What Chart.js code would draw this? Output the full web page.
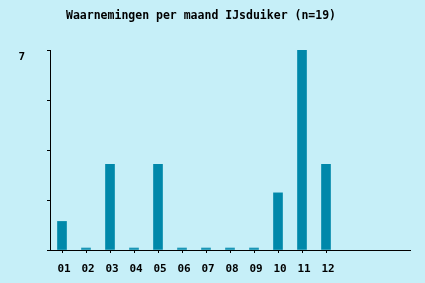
<!DOCTYPE html>
<html>
<head>
<meta charset="utf-8">
<script src="https://cdn.jsdelivr.net/npm/chart.js@4"></script>
<style>
  html, body { margin: 0; padding: 0; background: #c6eff8; }
  #wrap { width: 425px; height: 283px; }
</style>
</head>
<body>
<div id="wrap"><canvas id="chart" width="425" height="283"></canvas></div>
<script>
const titleText = "Waarnemingen per maand IJsduiker (n=19)";
const months = ["01", "02", "03", "04", "05", "06", "07", "08", "09", "10", "11", "12", "", "", ""];
const counts = [1, 0, 3, 0, 3, 0, 0, 0, 0, 2, 7, 3, null, null, null];
const yMax = 7;
const yStep = 1.75;

const monoFont = { family: "'DejaVu Sans Mono', monospace", size: 11, weight: "bold" };

// title drawn by hand so it sits where the original has it
const titlePlugin = {
    id: "plainTitle",
    afterDraw(chart) {
        const ctx = chart.ctx;
        ctx.save();
        ctx.font = "bold 11.5px 'DejaVu Sans Mono', monospace";
        ctx.fillStyle = "#000";
        ctx.textBaseline = "middle";
        ctx.textAlign = "left";
        ctx.fillText(titleText, 66, 16);
        ctx.restore();
    }
};

new Chart(document.getElementById("chart"), {
    type: "bar",
    data: {
        labels: months,
        datasets: [{
            data: counts,
            backgroundColor: counts.map(v => v === 0 ? "#1a95b5" : "#0088aa"),
            barThickness: 9,
            minBarLength: 2,
            borderWidth: 0
        }]
    },
    options: {
        responsive: false,
        animation: false,
        layout: { padding: { top: 50, left: 0, right: 15, bottom: 0 } },
        plugins: {
            legend: { display: false },
            tooltip: { enabled: false },
            title: { display: false }
        },
        scales: {
            x: {
                offset: true,
                grid: {
                    offset: false,
                    drawOnChartArea: false,
                    tickLength: 3,
                    tickColor: ctx => (ctx.index < 12 ? "#000" : "rgba(0,0,0,0)")
                },
                border: { color: "#000", width: 1 },
                ticks: { color: "#000", font: monoFont, padding: 10, labelOffset: 2, maxRotation: 0, autoSkip: false },
                afterFit: s => { s.height = 33; }
            },
            y: {
                min: 0,
                max: yMax,
                grid: { drawOnChartArea: false, tickLength: 3, tickColor: "#000" },
                border: { color: "#000", width: 1 },
                ticks: {
                    stepSize: yStep,
                    color: "#000",
                    font: monoFont,
                    padding: 22,
                    labelOffset: 7,
                    callback: v => (v === yMax ? String(yMax) : "")
                },
                afterFit: s => { s.width = 50; }
            }
        }
    },
    plugins: [titlePlugin]
});
</script>
</body>
</html>
